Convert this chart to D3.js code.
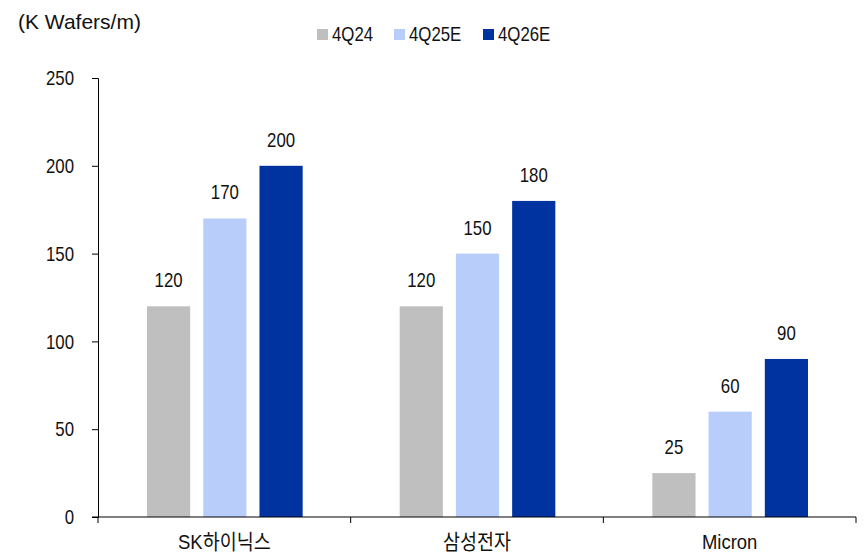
<!DOCTYPE html>
<html lang="ko">
<head>
<meta charset="UTF-8">
<title>Wafer capacity</title>
<script src="https://d3js.org/d3.v7.min.js"></script>
<style>
  body { margin: 0; background: #fff; }
  text { font-family: "Liberation Sans", Arial, "Noto Sans CJK KR", sans-serif; fill: #111; }
</style>
</head>
<body>
<div id="chart"></div>
<script>
// data
const categories = ["SK하이닉스", "삼성전자", "Micron"];
const seriesNames = ["4Q24", "4Q25E", "4Q26E"];
const values4Q24 = [120, 120, 25];
const values4Q25E = [170, 150, 60];
const values4Q26E = [200, 180, 90];
const yTicks = [0, 50, 100, 150, 200, 250];
const unitLabel = "(K Wafers/m)";

const seriesValues = [values4Q24, values4Q25E, values4Q26E];
const colors = ["#bfbfbf", "#b9cdfb", "#0033a0"];

const W = 866, H = 553;
const mLeft = 98, mRight = 856, mTop = 78, mBottom = 517;

const svg = d3.select("#chart").append("svg")
  .attr("width", W).attr("height", H);

const x0 = d3.scaleBand().domain(categories).range([mLeft, mRight]).padding(0);
const bw = x0.bandwidth();
const x1 = d3.scaleBand().domain(seriesNames)
  .range([bw * 0.194, bw * 0.81]).paddingInner(0.232).paddingOuter(0);
const y = d3.scaleLinear().domain([0, 250]).range([mBottom, mTop]);

// y axis
const yAxis = svg.append("g")
  .attr("transform", `translate(${mLeft},0)`)
  .call(d3.axisLeft(y).tickValues(yTicks).tickSize(6).tickPadding(18));
yAxis.attr("font-family", null);
yAxis.select(".domain").attr("stroke", "#000");
yAxis.selectAll(".tick line").attr("stroke", "#000");
yAxis.selectAll("text")
  .attr("class", "narrow")
  .style("font-size", "21px")
  .attr("fill", "#111");

// bars
const groups = svg.append("g").selectAll("g")
  .data(categories)
  .join("g")
  .attr("transform", c => `translate(${x0(c)},0)`);

seriesNames.forEach((s, si) => {
  groups.append("rect")
    .attr("x", x1(s))
    .attr("y", (c, i) => y(seriesValues[si][i]))
    .attr("width", x1.bandwidth())
    .attr("height", (c, i) => y(0) - y(seriesValues[si][i]))
    .attr("fill", colors[si]);
  groups.append("text")
    .attr("class", "narrow")
    .attr("x", x1(s) + x1.bandwidth() / 2)
    .attr("y", (c, i) => y(seriesValues[si][i]) - 19)
    .attr("text-anchor", "middle")
    .style("font-size", "21px")
    .text((c, i) => seriesValues[si][i]);
});

// x axis
const xAxis = svg.append("g")
  .attr("transform", `translate(0,${mBottom})`);
xAxis.append("line")
  .attr("x1", mLeft - 6).attr("x2", mRight)
  .attr("stroke", "#000");
xAxis.selectAll(".sep")
  .data(categories.concat([null]))
  .join("line")
  .attr("class", "sep")
  .attr("x1", (c, i) => i < categories.length ? x0(c) : mRight)
  .attr("x2", (c, i) => i < categories.length ? x0(c) : mRight)
  .attr("y1", 0).attr("y2", 6)
  .attr("stroke", "#000");
xAxis.selectAll(".cat")
  .data(categories)
  .join("text")
  .attr("class", "cat")
  .attr("x", c => x0(c) + bw / 2)
  .attr("y", 32)
  .attr("text-anchor", "middle")
  .style("font-size", "21px")
  .text(c => c);

// unit label
svg.append("text")
  .attr("x", 18).attr("y", 29)
  .style("font-size", "21px")
  .text(unitLabel);

// legend
const legendX = [317, 394, 483];
const legend = svg.append("g").selectAll("g")
  .data(seriesNames)
  .join("g")
  .attr("transform", (d, i) => `translate(${legendX[i]},29)`);
legend.append("rect")
  .attr("width", 11).attr("height", 11)
  .attr("fill", (d, i) => colors[i]);
legend.append("text")
  .attr("class", "narrow")
  .attr("x", 15).attr("y", 12)
  .style("font-size", "21px")
  .text(d => d);

// squeeze text horizontally to imitate the narrow face of the original
function squeeze(sel, k) {
  sel.each(function () {
    const len = this.getComputedTextLength();
    d3.select(this).attr("textLength", len * k).attr("lengthAdjust", "spacingAndGlyphs");
  });
}
squeeze(svg.selectAll("text.narrow"), 0.8);
squeeze(svg.selectAll("text.cat"), 0.88);
</script>
</body>
</html>
